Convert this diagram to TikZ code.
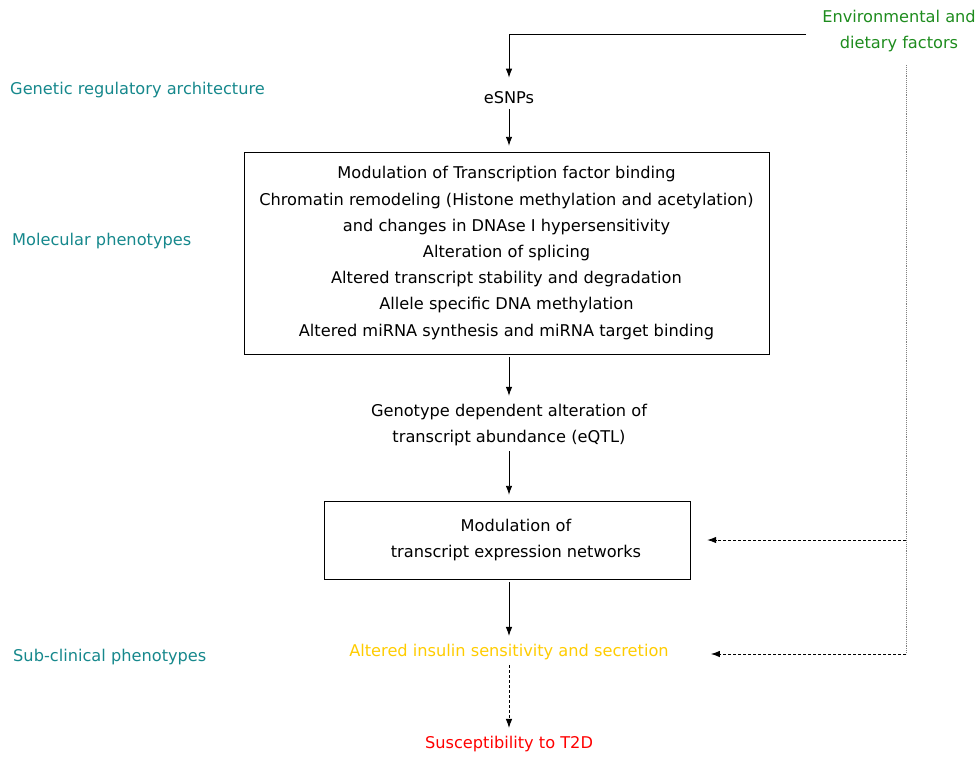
\documentclass[tikz,border=0pt]{standalone}
\usepackage{fontspec}
\setmainfont{DejaVu Sans}
\usetikzlibrary{arrows.meta}
\definecolor{layerteal}{RGB}{22,136,140}
\definecolor{envgreen}{RGB}{30,140,30}
\definecolor{insulinyellow}{RGB}{255,204,0}

\tikzset{
  txt/.style={font=\fontsize{16.2}{26.2}\selectfont, align=center, inner sep=2pt},
  layer/.style={txt, text=layerteal, anchor=west},
  tip/.style={-{Latex[length=9pt,width=6.5pt]}, line width=0.9pt},
  flow/.style={tip, shorten <=3pt, shorten >=6pt},
  envflow/.style={tip, densely dashed}
}

\begin{document}
\begin{tikzpicture}[x=1pt, y=1pt]
\useasboundingbox (0,0) rectangle (979,-756);
\node[layer] (genlayer) at (8,-90) {Genetic regulatory architecture};
\node[layer] (mollayer) at (10,-241) {Molecular phenotypes};
\node[layer] (sublayer) at (11,-657) {Sub-clinical phenotypes};

\node[txt, text=envgreen] (env) at (899,-31) {Environmental and\\dietary factors};
\node[txt] (esnp) at (509,-98) {eSNPs};
\node[txt, draw, minimum width=525, minimum height=202] (mech) at (506.5,-253) {Modulation of Transcription factor binding\\Chromatin remodeling (Histone methylation and acetylation)\\and changes in DNAse I hypersensitivity\\Alteration of splicing\\Altered transcript stability and degradation\\Allele specific DNA methylation\\Altered miRNA synthesis and miRNA target binding};
\node[txt] (eqtl) at (509,-425) {Genotype dependent alteration of\\transcript abundance (eQTL)};
\node[txt, draw, minimum width=366, minimum height=78] (net) at (507,-540) {\hspace*{18pt}Modulation of\\\hspace*{18pt}transcript expression networks};
\node[txt, text=insulinyellow] (insulin) at (509,-652) {Altered insulin sensitivity and secretion};
\node[txt, text=red] (t2d) at (509,-744) {Susceptibility to T2D};

\coordinate (envstart) at (806,-34);
\coordinate (envtop) at (906,-65);
\coordinate (envnet) at (906,-540);
\coordinate (envins) at (906,-654);

\draw[tip] (envstart) -| ([yshift=12]esnp.north);
\draw[flow] (esnp) -- (esnp |- mech.north);
\draw[flow] (esnp |- mech.south) -- (eqtl);
\draw[flow] (eqtl) -- (eqtl |- net.north);
\draw[flow] (eqtl |- net.south) -- (insulin);
\draw[flow, densely dashed] (insulin) -- (t2d);

\draw[densely dotted, gray, line width=0.9pt] (envtop) -- (envins);
\draw[envflow, shorten >=17pt] (envnet) -- (net.east);
\draw[envflow] (envins) -- ([xshift=40]envins -| insulin.east);
\end{tikzpicture}
\end{document}
